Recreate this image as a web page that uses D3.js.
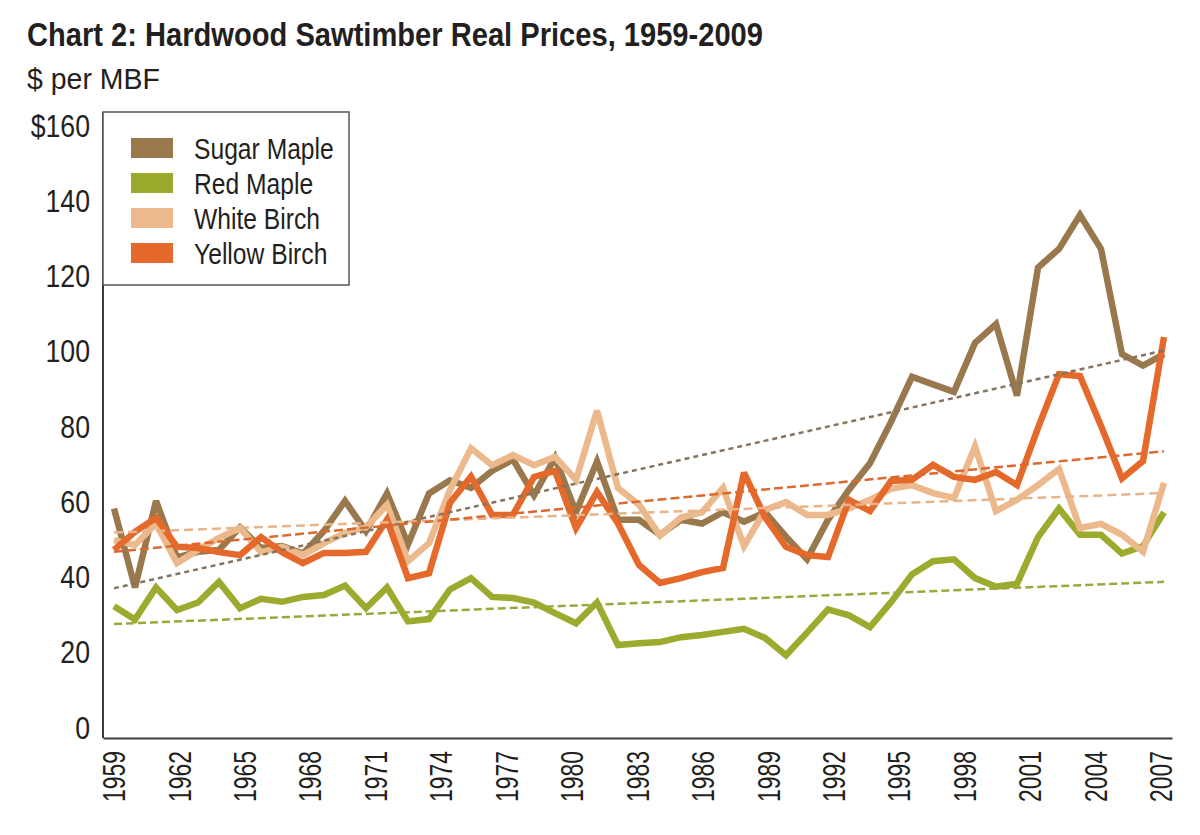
<!DOCTYPE html>
<html>
<head>
<meta charset="utf-8">
<script src="https://cdn.jsdelivr.net/npm/d3@7"></script>
<style>
  body { margin: 0; background: #fff; }
  text { font-family: "Liberation Sans", Arial, sans-serif; fill: #231f20; }
</style>
</head>
<body>
<div id="chart"></div>
<script>
const WIDTH = 1200;
const HEIGHT = 835;
const LEFT = 103;
const RIGHT = 1172;
const TOP = 112;
const BOTTOM = 738;

// data
const years = d3.range(1959, 2010);
const labelYears = d3.range(1959, 2008);
const xTickLabels = [1959, 1962, 1965, 1968, 1971, 1974, 1977, 1980, 1983, 1986, 1989, 1992, 1995, 1998, 2001, 2004, 2007];
const yTicks = [0, 20, 40, 60, 80, 100, 120, 140, 160];

const seriesNames = ['Sugar Maple', 'Red Maple', 'White Birch', 'Yellow Birch'];

const sugarMaple = [61, 40, 63, 48, 49.5, 50, 56, 50.5, 51, 49,
  55, 63, 55, 65, 51.5, 65, 68.5, 66.5, 71, 74,
  64.5, 74.5, 60, 73.5, 58, 58, 54, 58, 57, 60,
  57.5, 60, 53.5, 47.5, 58, 66, 73, 84, 96, 94,
  92, 105, 110, 91, 125, 130, 139, 130, 102, 99,
  102];
const redMaple = [35, 31.5, 40, 34, 36, 41.5, 34.5, 37, 36.2, 37.5,
  38, 40.5, 34.5, 40, 31, 31.6, 39.5, 42.5, 37.5, 37.2,
  36, 33.2, 30.5, 36, 24.7, 25.2, 25.5, 26.8, 27.4, 28.2,
  29, 26.6, 22, 28, 34.2, 32.6, 29.5, 36.1, 43.5, 47,
  47.5, 42.5, 40.2, 41, 53.4, 61, 54, 54, 49, 51,
  60];
const whiteBirch = [52.6, 51.3, 57, 46.5, 50, 53.2, 55.8, 49.4, 50.8, 48.6,
  51.8, 54.5, 56, 62, 47, 51.8, 65.9, 77, 72.5, 75.2,
  72.5, 74.7, 68.6, 87, 66.4, 62, 53.8, 58.6, 60, 66.5,
  51, 60.6, 62.7, 59.3, 59.3, 61, 63.3, 66.2, 67.2, 65.1,
  63.8, 77.5, 60.3, 63.3, 67.2, 71.5, 55.8, 56.9, 54, 49.5,
  67.8];
const yellowBirch = [50, 54.8, 58.5, 50.8, 50.5, 49.4, 48.6, 53.4, 49.4, 46.5,
  49.2, 49.2, 49.5, 58, 42.5, 43.8, 62.5, 69.5, 59.3, 59.3,
  69.4, 71, 55.8, 65.4, 57, 46, 41.2, 42.5, 44.1, 45.2,
  70.5, 58.7, 50.8, 48.6, 48.1, 63.3, 60.3, 68.3, 68.6, 72.6,
  69.4, 68.6, 70.7, 67.2, 82.4, 96.7, 96.2, 83, 69, 73.6,
  106.6];

// trend line values at 1959 and 2009
const trendStart = [39.8, 30.3, 54.6, 49.5];
const trendEnd = [103, 41.5, 65.1, 76.2];

const COLORS = ['#98784c', '#9cab2e', '#ebb98c', '#e4692a'];
const TREND_COLORS = ['#85745f', '#9aa83c', '#e8b48a', '#dc6a30'];
const TREND_DASH = ['5,4', '8,4', '9,5', '9,4'];

const allSeries = [sugarMaple, redMaple, whiteBirch, yellowBirch];

// squeeze text along its own direction, to mimic a condensed face
function condense(selection, factor) {
  selection.each(function() {
    let len = this.getComputedTextLength();
    d3.select(this)
      .attr('textLength', len * factor)
      .attr('lengthAdjust', 'spacingAndGlyphs');
  });
}

let svg = d3.select('#chart').append('svg')
  .attr('width', WIDTH)
  .attr('height', HEIGHT);

let x = d3.scaleLinear().domain([1959, 2009]).range([114, 1164]);
let xLabels = d3.scaleBand().domain(labelYears).range([LEFT, RIGHT]);
let y = d3.scaleLinear().domain([0, 160]).range([BOTTOM, 136]);

// titles
svg.append('text')
  .attr('x', 27).attr('y', 46)
  .attr('font-size', 33).attr('font-weight', 'bold')
  .attr('textLength', 736).attr('lengthAdjust', 'spacingAndGlyphs')
  .text('Chart 2: Hardwood Sawtimber Real Prices, 1959-2009');

svg.append('text')
  .attr('x', 27).attr('y', 89)
  .attr('font-size', 30)
  .attr('textLength', 133).attr('lengthAdjust', 'spacingAndGlyphs')
  .text('$ per MBF');

// lines
let line = d3.line()
  .x((d, i) => x(years[i]))
  .y((d) => y(d));

svg.append('g').attr('class', 'lineGroup')
  .selectAll('path')
  .data(allSeries)
  .enter()
  .append('path')
  .attr('d', line)
  .attr('fill', 'none')
  .attr('stroke', (d, i) => COLORS[i])
  .attr('stroke-width', 6.5)
  .attr('stroke-linejoin', 'miter')
  .attr('stroke-miterlimit', 3);

// trend lines
svg.append('g').attr('class', 'trendGroup')
  .selectAll('line')
  .data(seriesNames)
  .enter()
  .append('line')
  .attr('x1', x(1959))
  .attr('x2', x(2009))
  .attr('y1', (d, i) => y(trendStart[i]))
  .attr('y2', (d, i) => y(trendEnd[i]))
  .attr('stroke', (d, i) => TREND_COLORS[i])
  .attr('stroke-width', 2.5)
  .attr('stroke-dasharray', (d, i) => TREND_DASH[i]);

// axes
let yAxis = svg.append('g')
  .attr('class', 'axisGroup')
  .attr('transform', `translate(${LEFT},0)`)
  .call(d3.axisLeft(y).tickValues(yTicks).tickSize(0).tickSizeOuter(0)
    .tickFormat((d) => d === 160 ? '$160' : d));
yAxis.select('.domain').remove();
yAxis.selectAll('text')
  .attr('x', -13).attr('dy', 0)
  .attr('font-size', 31)
  .attr('font-family', null)
  .attr('fill', '#231f20')
  .call(condense, 0.86);

svg.append('line')
  .attr('x1', LEFT).attr('x2', LEFT)
  .attr('y1', TOP).attr('y2', BOTTOM)
  .attr('stroke', '#3a3a3a').attr('stroke-width', 2);

let xAxis = svg.append('g')
  .attr('class', 'axisGroup')
  .attr('transform', `translate(0,${BOTTOM})`)
  .call(d3.axisBottom(xLabels).tickValues(xTickLabels).tickSize(0).tickSizeOuter(0));
xAxis.select('.domain')
  .attr('stroke', '#3a3a3a').attr('stroke-width', 2);
xAxis.selectAll('text')
  .attr('transform', 'rotate(-90)')
  .attr('text-anchor', 'end')
  .attr('x', -13).attr('y', 0).attr('dy', '0.36em')
  .attr('font-size', 31)
  .attr('font-family', null)
  .attr('fill', '#231f20')
  .call(condense, 0.74);

// legend
let legend = svg.append('g').attr('class', 'metaGroup');
legend.append('rect')
  .attr('x', LEFT).attr('y', TOP)
  .attr('width', 246).attr('height', 173)
  .attr('fill', '#fff')
  .attr('stroke', '#555').attr('stroke-width', 1.5);

let rows = legend.selectAll('g.row')
  .data(seriesNames)
  .enter()
  .append('g')
  .attr('class', 'row')
  .attr('transform', (d, i) => `translate(0,${148 + i * 35})`);
rows.append('rect')
  .attr('x', 131).attr('y', -10)
  .attr('width', 42).attr('height', 20)
  .attr('fill', (d, i) => COLORS[i]);
rows.append('text')
  .attr('x', 194).attr('y', 10.5)
  .attr('font-size', 29)
  .text((d) => d)
  .call(condense, 0.85);
</script>
</body>
</html>
